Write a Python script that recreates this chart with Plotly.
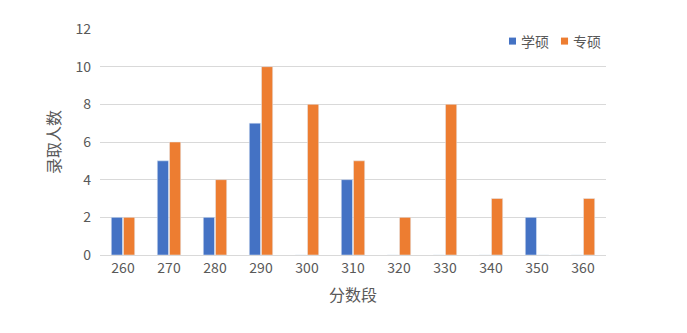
import plotly.graph_objects as go

categories = ["260", "270", "280", "290", "300", "310", "320", "330", "340", "350", "360"]
xueshuo = [2, 5, 2, 7, 0, 4, 0, 0, 0, 2, 0]
zhuanshuo = [2, 6, 4, 10, 8, 5, 2, 8, 3, 0, 3]
series_names = ["学硕", "专硕"]
series_colors = ["#4472C4", "#ED7D31"]

font_family = "Noto Sans CJK SC, Liberation Sans, sans-serif"
gray = "#595959"

fig = go.Figure()
fig.add_trace(go.Bar(x=categories, y=xueshuo, name=series_names[0], marker_color=series_colors[0]))
fig.add_trace(go.Bar(x=categories, y=zhuanshuo, name=series_names[1], marker_color=series_colors[1]))

# Custom legend: small squares followed by text
legend_items = [(0.8083, 0.8221, 0.828), (0.911, 0.925, 0.931)]
for (x0, x1, tx), name, color in zip(legend_items, series_names, series_colors):
    fig.add_shape(type="rect", xref="paper", yref="paper", x0=x0, x1=x1, y0=0.931, y1=0.962,
                  fillcolor=color, line=dict(width=0))
    fig.add_annotation(xref="paper", yref="paper", x=tx, y=0.947, xanchor="left", yanchor="middle",
                       text=name, showarrow=False, font=dict(size=14, color=gray))

fig.update_layout(
    width=687, height=333,
    margin=dict(l=100, r=81, t=29, b=78),
    paper_bgcolor="white", plot_bgcolor="white",
    barmode="group", bargap=0.47, bargroupgap=0.08,
    font=dict(family=font_family, color=gray, size=14),
    showlegend=False,
)
fig.update_xaxes(
    type="category", showgrid=False, showline=True, linecolor="#D9D9D9", linewidth=1,
    ticks="", tickfont=dict(size=14, color=gray),
    title=dict(text="分数段", font=dict(size=16, color=gray), standoff=14),
)
fig.update_yaxes(
    range=[0, 12], dtick=2, showgrid=True, gridcolor="#D9D9D9", gridwidth=1,
    zeroline=False, showline=False, ticks="", ticklabelstandoff=8,
    tickfont=dict(size=14, color=gray),
    title=dict(text="录取人数", font=dict(size=16, color=gray), standoff=10),
)

fig.write_html("out.html")
